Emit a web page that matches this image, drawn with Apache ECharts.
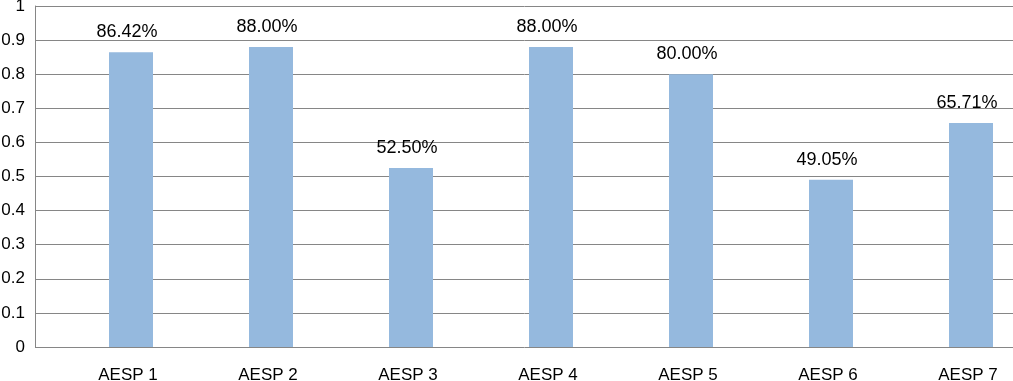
<!DOCTYPE html>
<html>
<head>
<meta charset="utf-8">
<script src="https://cdn.jsdelivr.net/npm/echarts@6/dist/echarts.min.js"></script>
<style>
  html, body { margin: 0; padding: 0; background: #fff; }
  #container { width: 1013px; height: 381px; }
</style>
</head>
<body>
<div id="container"></div>
<script>
// 数据
var categories = ["AESP 1", "AESP 2", "AESP 3", "AESP 4", "AESP 5", "AESP 6", "AESP 7"];
var values = [0.8642, 0.88, 0.525, 0.88, 0.80, 0.4905, 0.6571];

var axisGray = "#868686";
var font = "Liberation Sans, Arial, sans-serif";

var myChart = echarts.init(document.getElementById("container"));

myChart.setOption({
    animation: false,
    // grid 0: y轴和网格线, grid 1: 柱子（类目轴起点比y轴靠右，右边被裁掉）
    grid: [
        { left: 35, top: 6, width: 1006, bottom: 34, outerBoundsMode: "none" },
        { left: 61, top: 6, width: 980, bottom: 34, outerBoundsMode: "none" }
    ],
    xAxis: [{
        gridIndex: 0,
        type: "value",
        min: 0,
        max: 1,
        show: false
    }, {
        gridIndex: 1,
        type: "category",
        data: categories,
        axisLine: { show: false },
        axisTick: { show: false },
        axisLabel: {
            color: "#000",
            fontSize: 17,
            fontFamily: font,
            margin: 20,
            padding: [0, 6, 0, 0]
        }
    }],
    yAxis: [{
        gridIndex: 0,
        type: "value",
        min: 0,
        max: 1,
        interval: 0.1,
        axisLine: { show: true, lineStyle: { color: axisGray } },
        axisTick: { show: false },
        splitLine: { lineStyle: { color: axisGray, width: 1 } },
        axisLabel: {
            color: "#000",
            fontSize: 17,
            fontFamily: font,
            margin: 10,
            formatter: function(v) { return v === 0 || v === 1 ? String(v) : v.toFixed(1); }
        }
    }, {
        gridIndex: 1,
        type: "value",
        min: 0,
        max: 1,
        show: false
    }],
    series: [{
        type: "bar",
        xAxisIndex: 1,
        yAxisIndex: 1,
        data: values,
        barWidth: 44,
        itemStyle: { color: "#95b9de" },
        label: {
            show: true,
            position: "top",
            distance: 11,
            offset: [-4, 0],
            color: "#000",
            fontSize: 18,
            fontFamily: font,
            formatter: function(p) { return (p.value * 100).toFixed(2) + "%"; }
        }
    }]
});
</script>
</body>
</html>
